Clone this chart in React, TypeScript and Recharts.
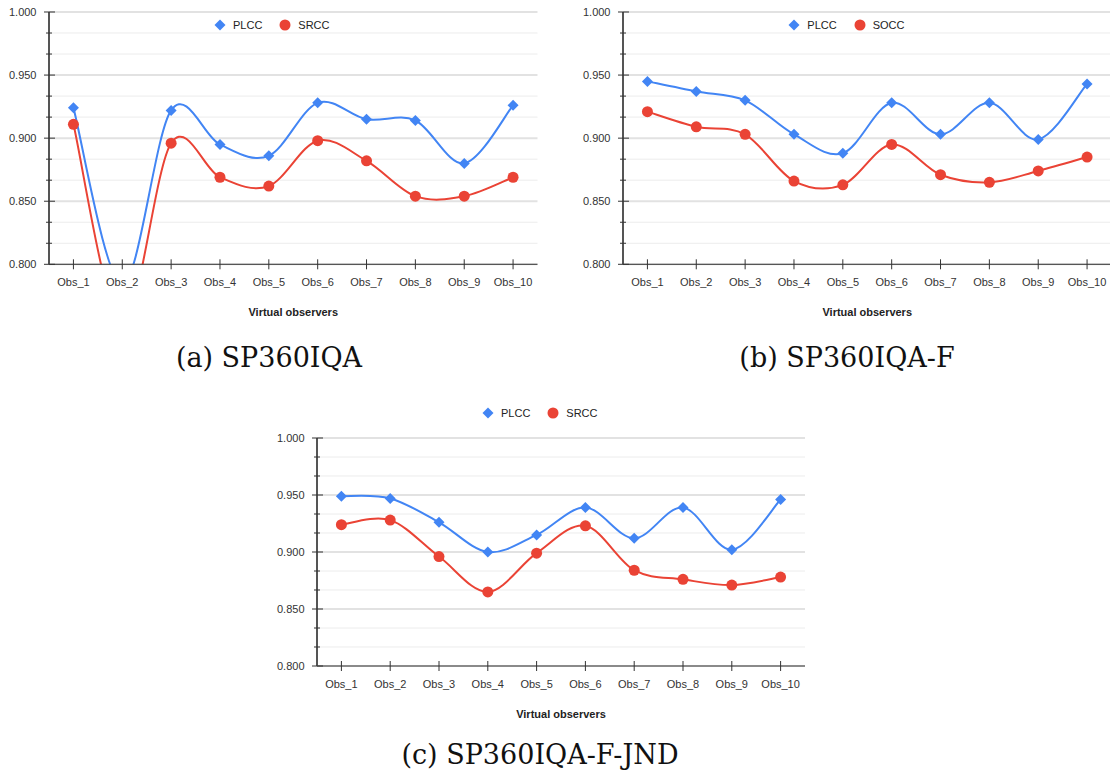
import React from 'react';
import { LineChart, Line, XAxis, YAxis, CartesianGrid, Legend, Label } from 'recharts';

const observers = ['Obs_1', 'Obs_2', 'Obs_3', 'Obs_4', 'Obs_5', 'Obs_6', 'Obs_7', 'Obs_8', 'Obs_9', 'Obs_10'];

// (a) SP360IQA -- Obs_2 falls below the axis floor and is clipped
const plccA = [0.924, 0.784, 0.922, 0.895, 0.886, 0.928, 0.915, 0.914, 0.88, 0.926];
const srccA = [0.911, 0.753, 0.896, 0.869, 0.862, 0.898, 0.882, 0.854, 0.854, 0.869];
// (b) SP360IQA-F
const plccB = [0.945, 0.937, 0.93, 0.903, 0.888, 0.928, 0.903, 0.928, 0.899, 0.943];
const soccB = [0.921, 0.909, 0.903, 0.866, 0.863, 0.895, 0.871, 0.865, 0.874, 0.885];
// (c) SP360IQA-F-JND
const plccC = [0.949, 0.947, 0.926, 0.9, 0.915, 0.939, 0.912, 0.939, 0.902, 0.946];
const srccC = [0.924, 0.928, 0.896, 0.865, 0.899, 0.923, 0.884, 0.876, 0.871, 0.878];

const yTicks = [0.8, 0.81667, 0.83333, 0.85, 0.86667, 0.88333, 0.9, 0.91667, 0.93333, 0.95, 0.96667, 0.98333, 1.0];
const captions = ['(a) SP360IQA', '(b) SP360IQA-F', '(c) SP360IQA-F-JND'];

const BLUE = '#4285F4';
const RED = '#EA4335';
const FONT = 'Arial, "Liberation Sans", Helvetica, sans-serif';

// cardinal-ish spline, gives the overshoot the original curves have
const smooth = (context: any) => {
  let pts: number[][] = [];
  return {
    areaStart() {},
    areaEnd() {},
    lineStart() {
      pts = [];
    },
    point(x: number, y: number) {
      pts.push([+x, +y]);
    },
    lineEnd() {
      const n = pts.length;
      if (!n) return;
      context.moveTo(pts[0][0], pts[0][1]);
      for (let i = 0; i < n - 1; i++) {
        const p0 = pts[i > 0 ? i - 1 : i];
        const p1 = pts[i];
        const p2 = pts[i + 1];
        const p3 = pts[i + 2 < n ? i + 2 : i + 1];
        context.bezierCurveTo(
          p1[0] + (p2[0] - p0[0]) / 6,
          p1[1] + (p2[1] - p0[1]) / 6,
          p2[0] - (p3[0] - p1[0]) / 6,
          p2[1] - (p3[1] - p1[1]) / 6,
          p2[0],
          p2[1]
        );
      }
    },
  };
};

const diamond = (cx: number, cy: number, r: number, fill: string, key?: any) => (
  <path key={key} d={`M${cx},${cy - r}L${cx + r},${cy}L${cx},${cy + r}L${cx - r},${cy}Z`} fill={fill} />
);

const YTick = (props: any) => {
  const { x, y, payload } = props;
  const idx = yTicks.indexOf(payload.value);
  const major = idx % 3 === 0;
  return (
    <g>
      <line x1={x - (major ? 5 : 3)} x2={x + (major ? 6 : 3)} y1={y} y2={y} stroke="#333" />
      {major && (
        <text x={x - 12.5} y={y + 4} textAnchor="end" fontSize={11} fontFamily={FONT} fill="#333">
          {Number(payload.value).toFixed(3)}
        </text>
      )}
    </g>
  );
};

const XTick = (props: any) => {
  const { x, y, payload } = props;
  return (
    <g>
      <line x1={x} x2={x} y1={y - 5} y2={y + 5} stroke="#333" />
      <text x={x} y={y + 22} textAnchor="middle" fontSize={11} fontFamily={FONT} fill="#333">
        {payload.value}
      </text>
    </g>
  );
};

const gridLine = (p: any) => {
  const major = p.index % 3 === 0;
  return (
    <line
      key={p.key}
      x1={p.x1}
      x2={p.x2}
      y1={p.y1}
      y2={p.y2}
      stroke={major ? '#e2e2e2' : '#ececec'}
      strokeWidth={major ? 2 : 1}
    />
  );
};

const renderLegend = (props: any) => {
  const items = [...(props.payload || [])].sort((a: any, b: any) => (a.dataKey === 'plcc' ? -1 : b.dataKey === 'plcc' ? 1 : 0));
  return (
    <div style={{ display: 'flex', alignItems: 'center', fontFamily: FONT, fontSize: 11, color: '#222', lineHeight: '12px' }}>
      {items.map((e: any) => (
        <div key={e.dataKey} style={{ display: 'flex', alignItems: 'center', marginRight: 17 }}>
          <svg width={12} height={12} style={{ display: 'block' }}>
            {e.dataKey === 'plcc' ? diamond(6, 6, 5.5, BLUE) : <circle cx={6} cy={6} r={5.5} fill={RED} />}
          </svg>
          <span style={{ marginLeft: 7, whiteSpace: 'nowrap' }}>{e.value}</span>
        </div>
      ))}
    </div>
  );
};

type PanelProps = {
  plotLeft: number;
  plotTop: number;
  w: number;
  h: number;
  mt: number;
  legendY: number;
  plcc: number[];
  other: number[];
  otherName: string;
};

const Panel = ({ plotLeft, plotTop, w, h, mt, legendY, plcc, other, otherName }: PanelProps) => {
  const rows = observers.map((name, i) => ({ name, plcc: plcc[i], other: other[i] }));
  const band = w / observers.length / 2;
  const top = plotTop - mt;
  return (
    <div style={{ position: 'absolute', left: plotLeft - 49, top }}>
      <LineChart width={49 + w + 20} height={mt + h + 66} data={rows} margin={{ top: mt, right: 20, bottom: 6, left: 0 }}>
        <CartesianGrid vertical={false} horizontal={gridLine} />
        <XAxis
          dataKey="name"
          interval={0}
          height={60}
          padding={{ left: band, right: band }}
          axisLine={{ stroke: '#333', strokeWidth: 1 }}
          tickLine={false}
          tickSize={0}
          tickMargin={0}
          tick={<XTick />}
        >
          <Label value="Virtual observers" position="insideTop" offset={44} fontSize={11} fontWeight="bold" fontFamily={FONT} fill="#222" />
        </XAxis>
        <YAxis
          width={49}
          domain={[0.8, 1]}
          ticks={yTicks}
          interval={0}
          allowDataOverflow
          axisLine={{ stroke: '#555', strokeWidth: 2 }}
          tickLine={false}
          tickSize={0}
          tickMargin={0}
          tick={<YTick />}
        />
        <Legend
          verticalAlign="middle"
          align="center"
          layout="horizontal"
          content={renderLegend}
          wrapperStyle={{ left: 214, top: legendY - top - 6, width: 'auto' }}
        />
        <Line
          dataKey="plcc"
          name="PLCC"
          type={smooth as any}
          stroke={BLUE}
          strokeWidth={2}
          isAnimationActive={false}
          dot={(p: any) => diamond(p.cx, p.cy, 5.5, BLUE, p.key ?? `d${p.index}`)}
          activeDot={false}
        />
        <Line
          dataKey="other"
          name={otherName}
          type={smooth as any}
          stroke={RED}
          strokeWidth={2}
          isAnimationActive={false}
          dot={(p: any) => <circle key={p.key ?? `c${p.index}`} cx={p.cx} cy={p.cy} r={5.5} fill={RED} />}
          activeDot={false}
        />
      </LineChart>
    </div>
  );
};

const captionStyle = (cx: number, cy: number): React.CSSProperties => ({
  position: 'absolute',
  left: cx - 200,
  width: 400,
  top: cy - 16,
  lineHeight: '32px',
  textAlign: 'center',
  fontFamily: '"DejaVu Serif", serif',
  fontSize: 27,
  color: '#111',
  whiteSpace: 'nowrap',
});

export default function App() {
  return (
    <div style={{ position: 'absolute', left: 0, top: 0, width: 1110, height: 782, overflow: 'hidden', background: '#fff' }}>
      <Panel plotLeft={49} plotTop={12} w={488.5} h={252.3} mt={12} legendY={25} plcc={plccA} other={srccA} otherName="SRCC" />
      <Panel plotLeft={623.3} plotTop={12} w={488.5} h={252.3} mt={12} legendY={25} plcc={plccB} other={soccB} otherName="SOCC" />
      <Panel plotLeft={317} plotTop={438} w={488} h={228} mt={40} legendY={413.3} plcc={plccC} other={srccC} otherName="SRCC" />
      <div style={captionStyle(269, 358)}>{captions[0]}</div>
      <div style={captionStyle(847, 358)}>{captions[1]}</div>
      <div style={captionStyle(540, 755)}>{captions[2]}</div>
    </div>
  );
}
